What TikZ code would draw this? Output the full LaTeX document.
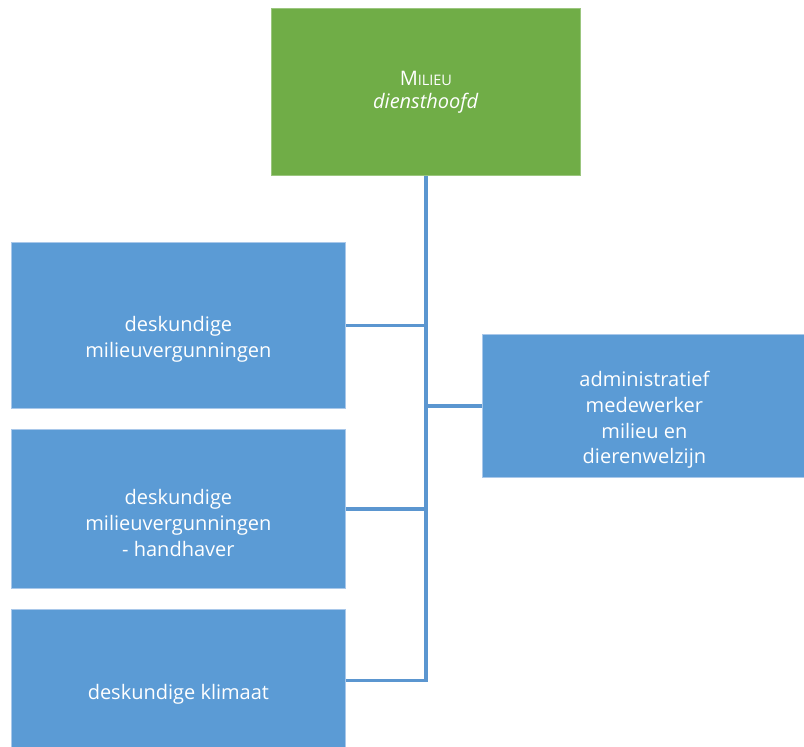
\documentclass[tikz,border=0pt]{standalone}
\usepackage{fontspec}
\setmainfont{Open Sans}
\definecolor{boxblue}{HTML}{5B9BD5}
\definecolor{boxgreen}{HTML}{70AD47}
\definecolor{edgeblue}{HTML}{A9C8EA}
\definecolor{linkblue}{HTML}{5B96D0}
\tikzset{
  box/.style={rectangle, fill=boxblue, draw=edgeblue, line width=0.8pt, inner sep=0pt, anchor=north west},
  headbox/.style={rectangle, fill=boxgreen, draw=boxgreen!70!white, line width=0.8pt, inner sep=0pt, anchor=north west},
  txt/.style={text=white, align=center, inner sep=0pt, font=\fontsize{20}{25.8}\selectfont},
  conn/.style={draw=linkblue, line width=3.3pt}
}
\begin{document}
\begin{tikzpicture}[x=1pt,y=-1pt]
\useasboundingbox (0,0) rectangle (804,747);
\clip (0,0) rectangle (804,747);
\node[headbox, minimum width=309pt, minimum height=167pt] (top) at (271,8) {};
\node[box, minimum width=334pt, minimum height=166pt] (b1) at (11,242) {};
\node[box, minimum width=334pt, minimum height=159pt] (b2) at (11,429) {};
\node[box, minimum width=334pt, minimum height=142pt] (b3) at (11,609) {};
\node[box, minimum width=324pt, minimum height=143pt] (r) at (482,334) {};

\node[txt] (ttop) at (top.center) {M{\fontsize{14.5}{17}\selectfont ILIEU}\\[-3pt]\textit{diensthoofd}};
\node[txt] (t1) at ([yshift=-14pt]b1.center) {deskundige\\milieuvergunningen};
\node[txt] (t2) at ([yshift=-14pt]b2.center) {deskundige\\milieuvergunningen\\- handhaver};
\node[txt] (t3) at ([yshift=-14pt]b3.center) {deskundige klimaat};
\node[txt] (tr) at ([yshift=-14pt]r.center) {administratief\\medewerker\\milieu en\\dierenwelzijn};

\draw[conn] (top.south) -- (top.south |- b3.east) -- (b3.east);
\draw[conn] (b1.east) -- (b1.east -| top.south);
\draw[conn] (b2.east) -- (b2.east -| top.south);
\draw[conn] (r.west) -- (r.west -| top.south);
\end{tikzpicture}
\end{document}
